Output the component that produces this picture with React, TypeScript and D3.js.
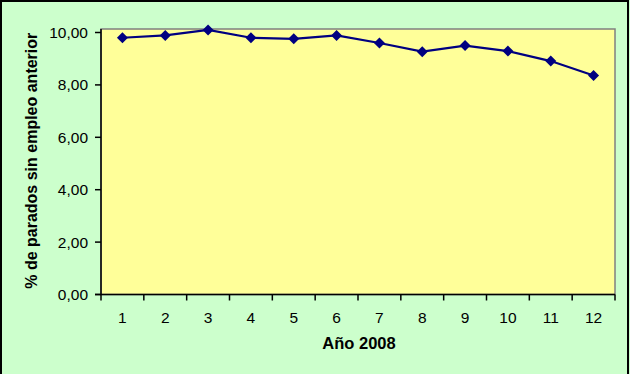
import React from "react";
import * as d3 from "d3";

const months = ["1", "2", "3", "4", "5", "6", "7", "8", "9", "10", "11", "12"];
const values = [9.8, 9.89, 10.1, 9.8, 9.76, 9.89, 9.6, 9.27, 9.5, 9.29, 8.91, 8.36];
const yTicks = [0, 2, 4, 6, 8, 10];
const yTitle = "% de parados sin empleo anterior";
const xTitle = "Año 2008";

const W = 630;
const H = 374;
const plotL = 101;
const plotR = 615;
const plotT = 29;
const plotB = 294.5;

export default function App() {
  const x = d3.scaleBand<string>().domain(months).range([plotL, plotR]);
  const y = d3.scaleLinear().domain([0, 10]).range([plotB, 32.5]);
  const cx = (m: string) => (x(m) as number) + x.bandwidth() / 2;
  const line = d3
    .line<number>()
    .x((_, i) => cx(months[i]))
    .y((v) => y(v));
  const fmt = (v: number) => v.toFixed(2).replace(".", ",");
  const font = "'Liberation Sans', Arial, sans-serif";
  const boundaries = months.map((m) => x(m) as number).concat([plotR]);
  return (
    <svg
      width={W}
      height={H}
      style={{ position: "fixed", left: 0, top: 0, display: "block" }}
      fontFamily={font}
    >
      <rect x={0} y={0} width={W} height={H} fill="#CCFFCC" />
      <rect x={1} y={1} width={627} height={H + 10} fill="none" stroke="#000" strokeWidth={2} />
      <rect x={plotL} y={plotT} width={plotR - plotL} height={plotB - plotT} fill="#FFFF99" stroke="#808080" strokeWidth={1.5} />
      <line x1={plotL} x2={plotL} y1={plotT} y2={plotB} stroke="#000" strokeWidth={1.5} />
      <line x1={plotL - 6} x2={plotR} y1={plotB} y2={plotB} stroke="#000" strokeWidth={1.5} />
      {yTicks.map((t) => (
        <g key={t}>
          <line x1={plotL - 6} x2={plotL} y1={y(t)} y2={y(t)} stroke="#000" strokeWidth={1.5} />
          <text x={88} y={y(t) + 5.5} textAnchor="end" fontSize={15.5} fill="#000">
            {fmt(t)}
          </text>
        </g>
      ))}
      {boundaries.map((b, i) => (
        <line key={i} x1={b} x2={b} y1={plotB} y2={plotB + 6} stroke="#000" strokeWidth={1.5} />
      ))}
      {months.map((m) => (
        <text key={m} x={cx(m)} y={323} textAnchor="middle" fontSize={15.5} fill="#000">
          {m}
        </text>
      ))}
      <path d={line(values) || ""} fill="none" stroke="#000080" strokeWidth={2.2} />
      {values.map((v, i) => {
        const px = cx(months[i]);
        const py = y(v);
        const s = 5.5;
        return (
          <path
            key={i}
            d={`M${px},${py - s}L${px + s},${py}L${px},${py + s}L${px - s},${py}Z`}
            fill="#000080"
          />
        );
      })}
      <text
        transform={`translate(37,${(plotT + plotB) / 2 - 1}) rotate(-90)`}
        textAnchor="middle"
        fontSize={16}
        fontWeight="bold"
        fill="#000"
      >
        {yTitle}
      </text>
      <text x={359} y={349} textAnchor="middle" fontSize={16.5} fontWeight="bold" fill="#000">
        {xTitle}
      </text>
    </svg>
  );
}
